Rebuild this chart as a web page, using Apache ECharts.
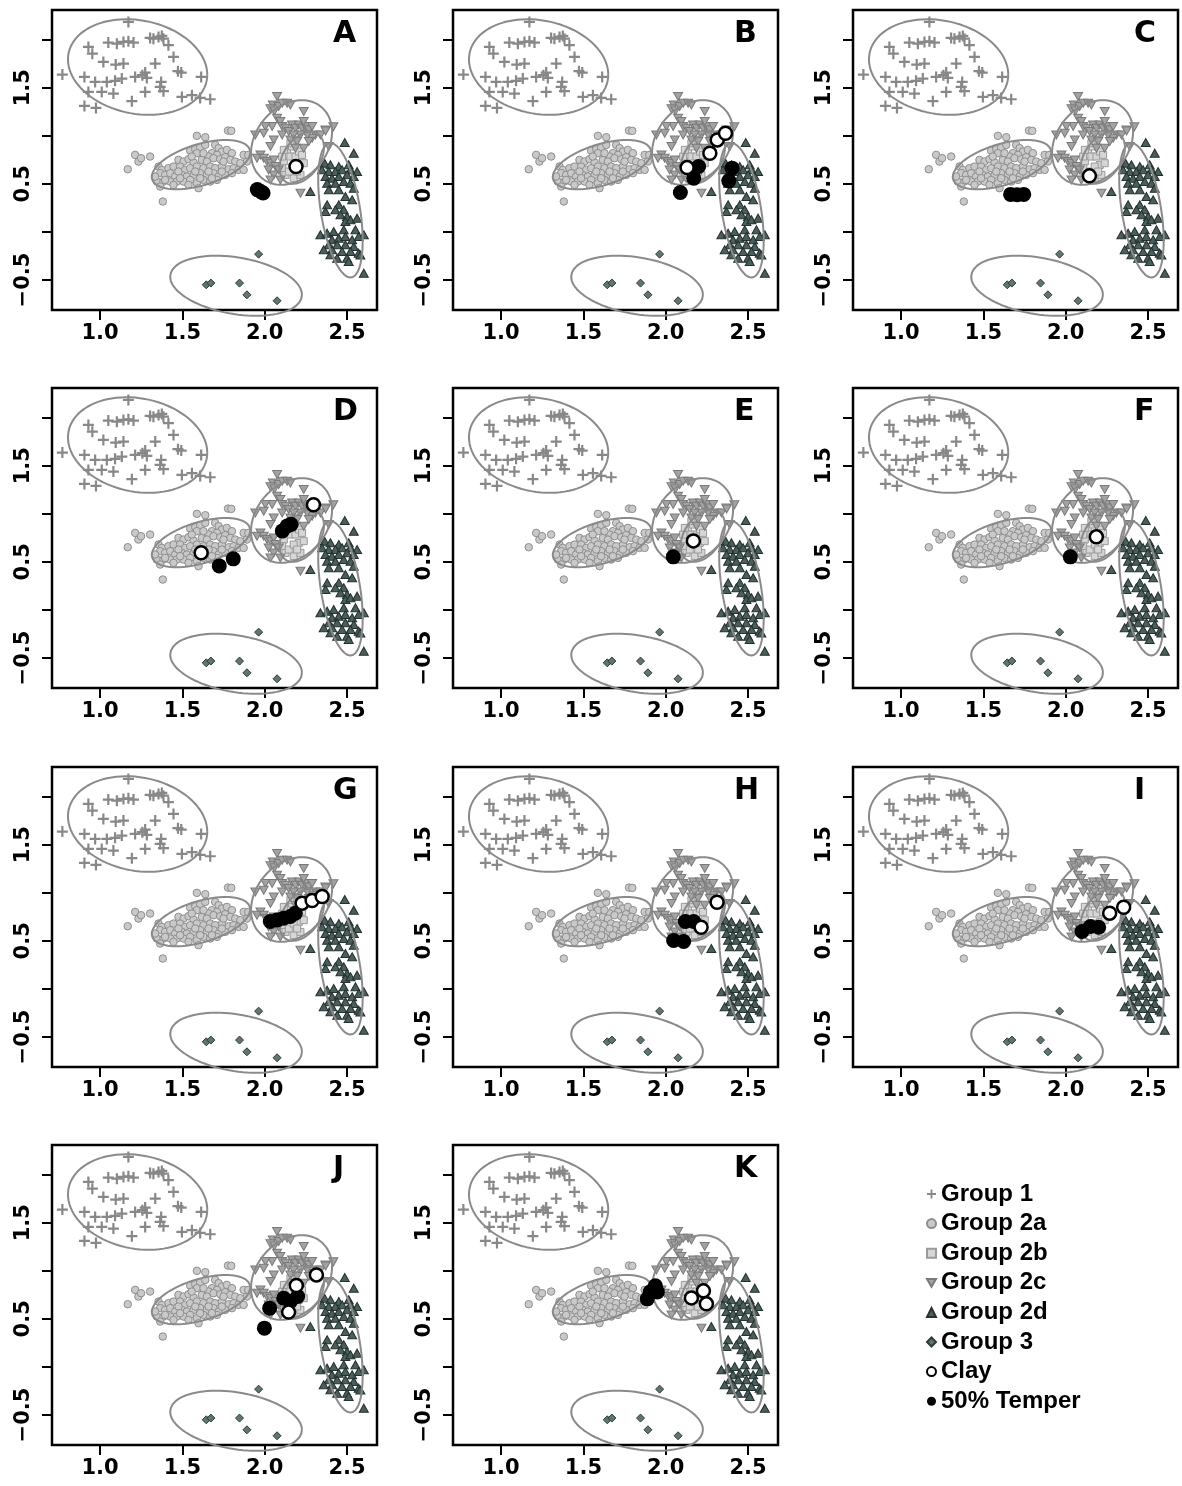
<!DOCTYPE html>
<html>
<head>
<meta charset="utf-8">
<script src="https://cdn.jsdelivr.net/npm/echarts@6/dist/echarts.min.js"></script>
<style>
html, body { margin: 0; padding: 0; background: #fff; }
#chart { width: 1182px; height: 1486px; }
</style>
</head>
<body>
<div id="chart"></div>
<script>
// reference groups, same in every panel
const group1 = [
  [0.771,1.636],[1.172,2.184],[0.929,1.924],[0.953,1.854],[1.050,1.969],[1.102,1.958],[1.142,1.976],
  [1.172,1.983],[1.203,1.969],[1.304,2.018],[1.324,2.010],[1.355,2.028],[1.375,2.038],[1.385,2.010],
  [1.415,1.942],[1.446,1.820],[1.473,1.672],[1.493,1.657],[1.335,1.751],[1.020,1.768],[1.095,1.740],
  [1.142,1.751],[0.905,1.612],[0.970,1.560],[1.041,1.560],[1.091,1.571],[1.132,1.595],[1.213,1.612],
  [1.257,1.630],[1.274,1.657],[1.284,1.602],[1.371,1.560],[1.365,1.508],[1.385,1.464],[1.614,1.612],
  [0.929,1.456],[1.010,1.456],[1.081,1.439],[1.274,1.456],[1.193,1.360],[1.497,1.404],[1.558,1.422],
  [1.608,1.394],[1.669,1.380],[0.905,1.310],[0.975,1.290]
];
const group2a = [
  [1.168,0.652],[1.213,0.801],[1.233,0.732],[1.249,0.767],[1.304,0.784],[1.381,0.316],[1.588,0.999],
  [1.639,0.985],[1.777,1.054],[1.797,1.051],
  [1.547,0.846],[1.578,0.860],[1.608,0.881],[1.639,0.905],[1.588,0.819],[1.699,0.905],[1.720,0.871],
  [1.740,0.836],[1.770,0.853],[1.801,0.819],[1.679,0.819],[1.710,0.801],[1.659,0.784],[1.476,0.749],
  [1.507,0.732],[1.537,0.756],[1.568,0.722],[1.618,0.749],[1.649,0.732],[1.689,0.767],[1.730,0.756],
  [1.760,0.777],[1.791,0.749],[1.821,0.732],[1.872,0.801],[1.852,0.715],[1.355,0.680],[1.375,0.645],
  [1.415,0.663],[1.446,0.680],[1.486,0.680],[1.517,0.645],[1.547,0.663],[1.588,0.680],[1.628,0.663],
  [1.669,0.680],[1.699,0.663],[1.740,0.680],[1.781,0.652],[1.811,0.663],[1.841,0.645],[1.872,0.645],
  [1.365,0.611],[1.395,0.593],[1.426,0.611],[1.456,0.576],[1.497,0.593],[1.527,0.576],[1.568,0.593],
  [1.608,0.611],[1.649,0.593],[1.689,0.611],[1.720,0.576],[1.760,0.593],[1.801,0.611],[1.345,0.524],
  [1.385,0.524],[1.426,0.524],[1.466,0.524],[1.507,0.524],[1.547,0.541],[1.588,0.507],[1.628,0.541],
  [1.669,0.524],[1.710,0.541],[1.365,0.472],[1.446,0.489],[1.537,0.489],[1.598,0.455],
  [1.557,0.784],[1.628,0.819],[1.750,0.732],[1.659,0.628],[1.578,0.628],[1.476,0.628],[1.740,0.628],
  [1.486,0.559],[1.608,0.559],[1.679,0.559],[1.395,0.541],[1.334,0.576],[1.892,0.732],[1.900,0.800]
];
const group2b = [
  [2.136,0.853],[2.166,0.888],[2.116,0.732],[2.106,0.663],[2.156,0.784],[2.187,0.784],[2.207,0.697],
  [2.126,0.593],[2.176,0.559],[2.217,0.593],[2.146,0.628],[2.207,0.836],[2.227,0.801],[2.106,0.784],
  [2.176,0.680],[2.197,0.628],[2.237,0.715],[2.156,0.923],[2.116,0.853]
];
const group2c = [
  [2.075,1.408],[2.049,1.321],[2.035,1.280],[2.059,1.259],[2.085,1.304],[2.106,1.338],[2.136,1.338],
  [2.156,1.321],[2.237,1.252],[2.075,1.183],[2.095,1.148],[2.106,1.096],[2.126,1.079],[2.045,1.096],
  [2.004,1.096],[1.994,1.027],[2.055,0.957],[2.035,0.888],[2.106,1.009],[2.146,1.044],[2.166,1.113],
  [2.187,1.079],[2.207,1.113],[2.227,1.079],[2.247,1.096],[2.268,1.061],[2.288,1.096],[2.308,1.009],
  [2.339,1.009],[2.369,1.061],[2.288,0.975],[2.258,1.009],[2.217,1.009],[2.176,1.009],[2.156,0.957],
  [2.197,0.940],[2.187,0.871],[2.237,0.871],[2.268,0.940],[2.237,1.148],[1.943,1.009],[1.974,0.801],
  [1.953,0.767],[1.994,0.767],[2.014,0.732],[2.035,0.715],[2.055,0.749],[2.065,0.680],[2.085,0.645],
  [2.024,0.645],[2.055,0.593],[2.035,0.541],[2.095,0.541],[2.217,0.403],[2.389,0.888],[2.417,1.093],
  [2.370,1.050]
];
const group2d = [
  [2.486,0.930],[2.541,0.819],[2.277,0.420],[2.602,-0.429],[2.364,0.715],[2.399,0.698],[2.450,0.680],
  [2.510,0.698],[2.348,0.646],[2.389,0.628],[2.429,0.628],[2.470,0.646],[2.521,0.646],[2.561,0.628],
  [2.369,0.576],[2.409,0.559],[2.450,0.576],[2.500,0.594],[2.541,0.576],[2.379,0.507],[2.429,0.507],
  [2.480,0.524],[2.521,0.507],[2.389,0.438],[2.450,0.438],[2.541,0.455],[2.490,0.368],[2.531,0.334],
  [2.379,0.282],[2.450,0.282],[2.369,0.212],[2.429,0.230],[2.480,0.230],[2.460,0.178],[2.500,0.160],
  [2.490,0.108],[2.521,0.126],[2.561,0.143],[2.338,-0.030],[2.379,-0.013],[2.419,0.005],[2.480,0.022],
  [2.551,0.022],[2.602,-0.030],[2.409,-0.082],[2.450,-0.065],[2.490,-0.047],[2.531,-0.082],[2.571,-0.047],
  [2.389,-0.134],[2.440,-0.134],[2.490,-0.134],[2.541,-0.151],[2.358,-0.186],[2.409,-0.186],[2.470,-0.203],
  [2.521,-0.203],[2.571,-0.221],[2.581,-0.240],[2.440,-0.273],[2.500,-0.273],[2.510,-0.307],[2.399,-0.238]
];
const group3 = [
  [1.963,-0.231],[1.645,-0.550],[1.673,-0.532],[1.847,-0.532],[1.892,-0.654],[2.075,-0.716]
];

// ellipse per group: centre x, centre y, half-width, half-height, correlation
const ellipseGroups = ['Group 1', 'Group 2a', 'Group 2b', 'Group 2c', 'Group 2d', 'Group 3'];
const ellipseParams = [
  [1.228, 1.715, 0.423, 0.497, -0.16],
  [1.613, 0.700, 0.299, 0.256, 0.50],
  [2.225, 0.770, 0.135, 0.270, 0.40],
  [2.163, 0.930, 0.246, 0.440, 0.25],
  [2.460, 0.225, 0.135, 0.700, -0.45],
  [1.826, -0.560, 0.400, 0.312, -0.30]
];

// samples per panel
const panelLetters = ['A', 'B', 'C', 'D', 'E', 'F', 'G', 'H', 'I', 'J', 'K'];
const clayByPanel = [
  [[2.190, 0.680]],
  [[2.130, 0.669], [2.268, 0.819], [2.313, 0.957], [2.363, 1.027]],
  [[2.144, 0.583]],
  [[1.614, 0.594], [2.296, 1.093]],
  [[2.168, 0.718]],
  [[2.186, 0.760]],
  [[2.227, 0.892], [2.288, 0.919], [2.349, 0.961]],
  [[2.312, 0.902], [2.215, 0.642]],
  [[2.267, 0.788], [2.352, 0.850]],
  [[2.192, 0.846], [2.314, 0.957], [2.145, 0.570]],
  [[2.156, 0.718], [2.229, 0.791], [2.247, 0.656]]
];
const temperByPanel = [
  [[1.955, 0.440], [1.975, 0.420], [1.990, 0.405]],
  [[2.200, 0.680], [2.170, 0.559], [2.089, 0.410], [2.403, 0.663], [2.383, 0.531]],
  [[1.665, 0.390], [1.705, 0.386], [1.745, 0.390]],
  [[1.724, 0.458], [1.809, 0.531], [2.107, 0.822], [2.137, 0.874], [2.160, 0.890]],
  [[2.046, 0.552]],
  [[2.028, 0.552]],
  [[2.034, 0.701], [2.075, 0.718], [2.115, 0.736], [2.156, 0.753], [2.186, 0.788]],
  [[2.119, 0.701], [2.170, 0.701], [2.048, 0.503], [2.109, 0.493]],
  [[2.099, 0.597], [2.150, 0.649], [2.200, 0.642]],
  [[1.998, 0.403], [2.030, 0.611], [2.115, 0.715], [2.156, 0.680], [2.200, 0.732]],
  [[1.888, 0.708], [1.906, 0.781], [1.937, 0.843], [1.949, 0.780]]
];

const xTicks = [1.0, 1.5, 2.0, 2.5];
const yTicks = [-0.5, 0, 0.5, 1.0, 1.5, 2.0];
const yLabels = [-0.5, 0.5, 1.5];

const plusPath = 'path://M4,0H6V4H10V6H6V10H4V6H0V4H4Z';
const downTri = 'path://M0,0L10,0L5,8.66Z';
const FONT = 'Liberation Sans';
const TICK_FONT = 'DejaVu Sans';

const colLeft = [52, 453, 853];
const rowTop = [10, 388, 767, 1145];
const boxW = 325, boxH = 300;

function ellipsePoints(p) {
  const [cx, cy, sx, sy, r] = p;
  const k = Math.sqrt(1 - r * r);
  const pts = [];
  for (let i = 0; i <= 90; i++) {
    const t = i / 90 * Math.PI * 2;
    pts.push([cx + sx * Math.cos(t), cy + sy * (r * Math.cos(t) + k * Math.sin(t))]);
  }
  return pts;
}

const styles = {
  'Group 1': { symbol: plusPath, symbolSize: 11, itemStyle: { color: '#888888', opacity: 1 }, data: group1 },
  'Group 2a': { symbol: 'circle', symbolSize: 7.5, itemStyle: { color: '#c9c9c9', borderColor: '#8e8e8e', borderWidth: 1, opacity: 1 }, data: group2a },
  'Group 2b': { symbol: 'rect', symbolSize: 7, itemStyle: { color: '#d6d6d6', borderColor: '#9a9a9a', borderWidth: 1, opacity: 1 }, data: group2b },
  'Group 2c': { symbol: downTri, symbolSize: [9, 8], itemStyle: { color: '#a3a3a3', borderColor: '#7a7a7a', borderWidth: 1, opacity: 1 }, data: group2c },
  'Group 2d': { symbol: 'triangle', symbolSize: [9, 8], itemStyle: { color: '#4a5e5c', borderColor: '#25312f', borderWidth: 1, opacity: 1 }, data: group2d },
  'Group 3': { symbol: 'diamond', symbolSize: 8, itemStyle: { color: '#5f7573', borderColor: '#2e3b39', borderWidth: 1, opacity: 1 }, data: group3 }
};

const grids = [], xAxes = [], yAxes = [], series = [], graphics = [];

panelLetters.forEach((letter, i) => {
  const col = i % 3, row = Math.floor(i / 3);
  const left = colLeft[col], top = rowTop[row];
  grids.push({
    left: left, top: top, width: boxW, height: boxH,
    show: true, borderColor: '#000', borderWidth: 2.5, backgroundColor: 'transparent',
    containLabel: false, outerBoundsMode: 'none'
  });
  xAxes.push({
    gridIndex: i, type: 'value', min: 0.708, max: 2.682,
    axisLine: { show: false, onZero: false }, splitLine: { show: false },
    axisTick: { show: true, length: 10, customValues: xTicks, lineStyle: { color: '#000', width: 2 } },
    axisLabel: {
      customValues: xTicks, margin: 13, color: '#000', fontFamily: TICK_FONT, fontWeight: 'bold', fontSize: 21,
      formatter: v => v.toFixed(1)
    }
  });
  yAxes.push({
    gridIndex: i, type: 'value', min: -0.812, max: 2.308,
    axisLine: { show: false, onZero: false }, splitLine: { show: false },
    axisTick: { show: true, length: 10, customValues: yTicks, lineStyle: { color: '#000', width: 2 } },
    axisLabel: {
      customValues: yLabels, rotate: 90, margin: 18, color: '#000', fontFamily: TICK_FONT, fontWeight: 'bold', fontSize: 21,
      formatter: v => (v < 0 ? '\u2212' + Math.abs(v).toFixed(1) : v.toFixed(1))
    }
  });
  Object.keys(styles).forEach(name => {
    const s = styles[name];
    series.push({
      type: 'scatter', name: name, xAxisIndex: i, yAxisIndex: i, z: 2,
      symbol: s.symbol, symbolSize: s.symbolSize, itemStyle: s.itemStyle,
      data: s.data, silent: true
    });
  });
  ellipseGroups.forEach((g, j) => {
    series.push({
      type: 'line', name: g + ' ellipse', xAxisIndex: i, yAxisIndex: i, z: 3,
      data: ellipsePoints(ellipseParams[j]), showSymbol: false, clip: false, silent: true,
      lineStyle: { color: '#8a8a8a', width: 2 }
    });
  });
  series.push({
    type: 'scatter', name: 'Clay', xAxisIndex: i, yAxisIndex: i, z: 5,
    symbol: 'circle', symbolSize: 13,
    itemStyle: { color: '#ffffff', borderColor: '#000', borderWidth: 2.5, opacity: 1 },
    data: clayByPanel[i], silent: true
  });
  series.push({
    type: 'scatter', name: '50% Temper', xAxisIndex: i, yAxisIndex: i, z: 4,
    symbol: 'circle', symbolSize: 15,
    itemStyle: { color: '#000000', opacity: 1 },
    data: temperByPanel[i], silent: true
  });
  graphics.push({
    type: 'text', left: left + boxW - 14 - 30, top: top + 9,
    style: { text: letter, font: 'bold 30px "' + TICK_FONT + '"', fill: '#000', width: 30, align: 'right' },
    z: 10
  });
});

const chart = echarts.init(document.getElementById('chart'), null, { renderer: 'canvas' });
chart.setOption({
  animation: false,
  backgroundColor: '#fff',
  grid: grids,
  xAxis: xAxes,
  yAxis: yAxes,
  series: series,
  graphic: graphics,
  legend: {
    orient: 'vertical', left: 921, top: 1177, itemWidth: 9, itemHeight: 9, itemGap: 5.6,
    selectedMode: false,
    textStyle: { fontFamily: FONT, fontWeight: 'bold', fontSize: 24, color: '#000', lineHeight: 22 },
    data: [
      { name: 'Group 1', icon: plusPath },
      { name: 'Group 2a', icon: 'circle' },
      { name: 'Group 2b', icon: 'rect' },
      { name: 'Group 2c', icon: downTri },
      { name: 'Group 2d', icon: 'triangle' },
      { name: 'Group 3', icon: 'diamond' },
      { name: 'Clay', icon: 'circle' },
      { name: '50% Temper', icon: 'circle' }
    ]
  }
});
</script>
</body>
</html>
